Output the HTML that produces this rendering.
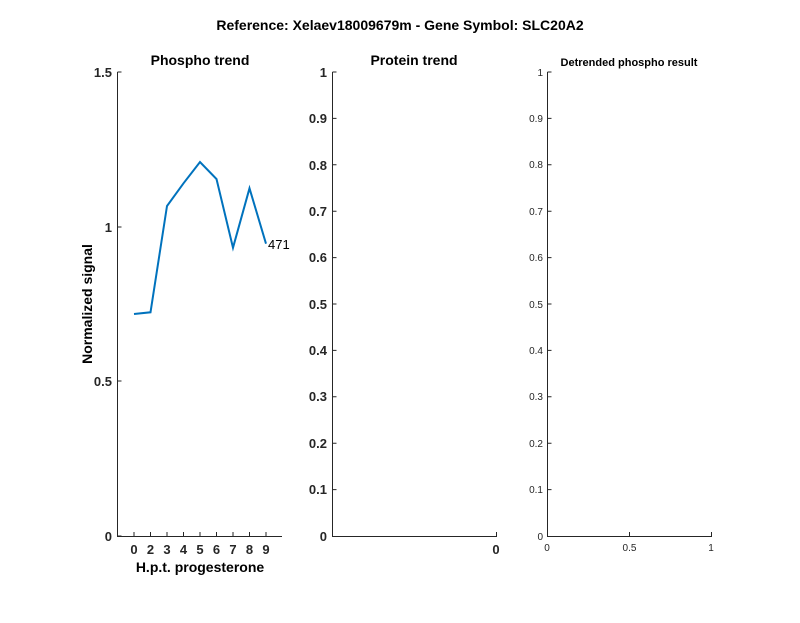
<!DOCTYPE html>
<html><head><meta charset="utf-8"><style>html,body{margin:0;padding:0;background:#fff}</style></head><body>
<svg width="800" height="618" xmlns="http://www.w3.org/2000/svg" font-family="Liberation Sans, sans-serif">
<rect width="800" height="618" fill="#fff"/>
<text x="400" y="30" text-anchor="middle" font-size="14" font-weight="bold" fill="#000">Reference:  Xelaev18009679m - Gene Symbol:  SLC20A2</text>
<g stroke="#262626" stroke-width="1" fill="none">
<!-- axis 1 -->
<path d="M117.5,72 V536.5 H282"/>
<path d="M117.5,72 h4 M117.5,227 h4 M117.5,381 h4 M117.5,536 h4"/>
<path d="M134,536 v-4 M150.5,536 v-4 M167,536 v-4 M183.5,536 v-4 M200,536 v-4 M216.5,536 v-4 M233,536 v-4 M249.5,536 v-4 M266,536 v-4"/>
<!-- axis 2 -->
<path d="M332.5,72 V536.5 H497"/>
<path d="M496.5,536 v-4"/>
<path d="M332.5,72 h4 M332.5,118.4 h4 M332.5,164.8 h4 M332.5,211.2 h4 M332.5,257.6 h4 M332.5,304 h4 M332.5,350.4 h4 M332.5,396.8 h4 M332.5,443.2 h4 M332.5,489.6 h4"/>
<!-- axis 3 -->
<path d="M547.5,72 V536.5 H712"/>
<path d="M547.5,72 h4 M547.5,118.4 h4 M547.5,164.8 h4 M547.5,211.2 h4 M547.5,257.6 h4 M547.5,304 h4 M547.5,350.4 h4 M547.5,396.8 h4 M547.5,443.2 h4 M547.5,489.6 h4"/>
<path d="M629.5,536 v-4 M711.5,536 v-4"/>
</g>
<polyline fill="none" stroke="#0072BD" stroke-width="2" points="134,314 150.5,312.3 167,206 183.5,183.3 200,162 216.5,179 233,247.7 249.5,188.3 266,243.7"/>
<text x="268" y="249" font-size="13" fill="#000">471</text>
<g font-size="14" font-weight="bold" fill="#000" text-anchor="middle">
<text x="200" y="65">Phospho trend</text>
<text x="414" y="65">Protein trend</text>
<text x="200" y="572">H.p.t. progesterone</text>
<text transform="translate(92,304) rotate(-90)">Normalized signal</text>
</g>
<text x="629" y="66" font-size="11" font-weight="bold" text-anchor="middle">Detrended phospho result</text>
<g font-size="13" font-weight="bold" fill="#262626" text-anchor="end">
<text x="112" y="77">1.5</text><text x="112" y="232">1</text><text x="112" y="386">0.5</text><text x="112" y="541">0</text>
<text x="327" y="77">1</text><text x="327" y="123">0.9</text><text x="327" y="170">0.8</text><text x="327" y="216">0.7</text><text x="327" y="262">0.6</text><text x="327" y="309">0.5</text><text x="327" y="355">0.4</text><text x="327" y="401">0.3</text><text x="327" y="448">0.2</text><text x="327" y="494">0.1</text><text x="327" y="541">0</text>
</g>
<g font-size="13" font-weight="bold" fill="#262626" text-anchor="middle">
<text x="134" y="554">0</text><text x="150.5" y="554">2</text><text x="167" y="554">3</text><text x="183.5" y="554">4</text><text x="200" y="554">5</text><text x="216.5" y="554">6</text><text x="233" y="554">7</text><text x="249.5" y="554">8</text><text x="266" y="554">9</text>
<text x="496" y="554">0</text>
</g>
<g font-size="10" fill="#262626" text-anchor="end">
<text x="543" y="76">1</text><text x="543" y="122">0.9</text><text x="543" y="168">0.8</text><text x="543" y="215">0.7</text><text x="543" y="261">0.6</text><text x="543" y="308">0.5</text><text x="543" y="354">0.4</text><text x="543" y="400">0.3</text><text x="543" y="447">0.2</text><text x="543" y="493">0.1</text><text x="543" y="540">0</text>
</g>
<g font-size="10" fill="#262626" text-anchor="middle">
<text x="547" y="551">0</text><text x="629.5" y="551">0.5</text><text x="711" y="551">1</text>
</g>
</svg>
</body></html>
